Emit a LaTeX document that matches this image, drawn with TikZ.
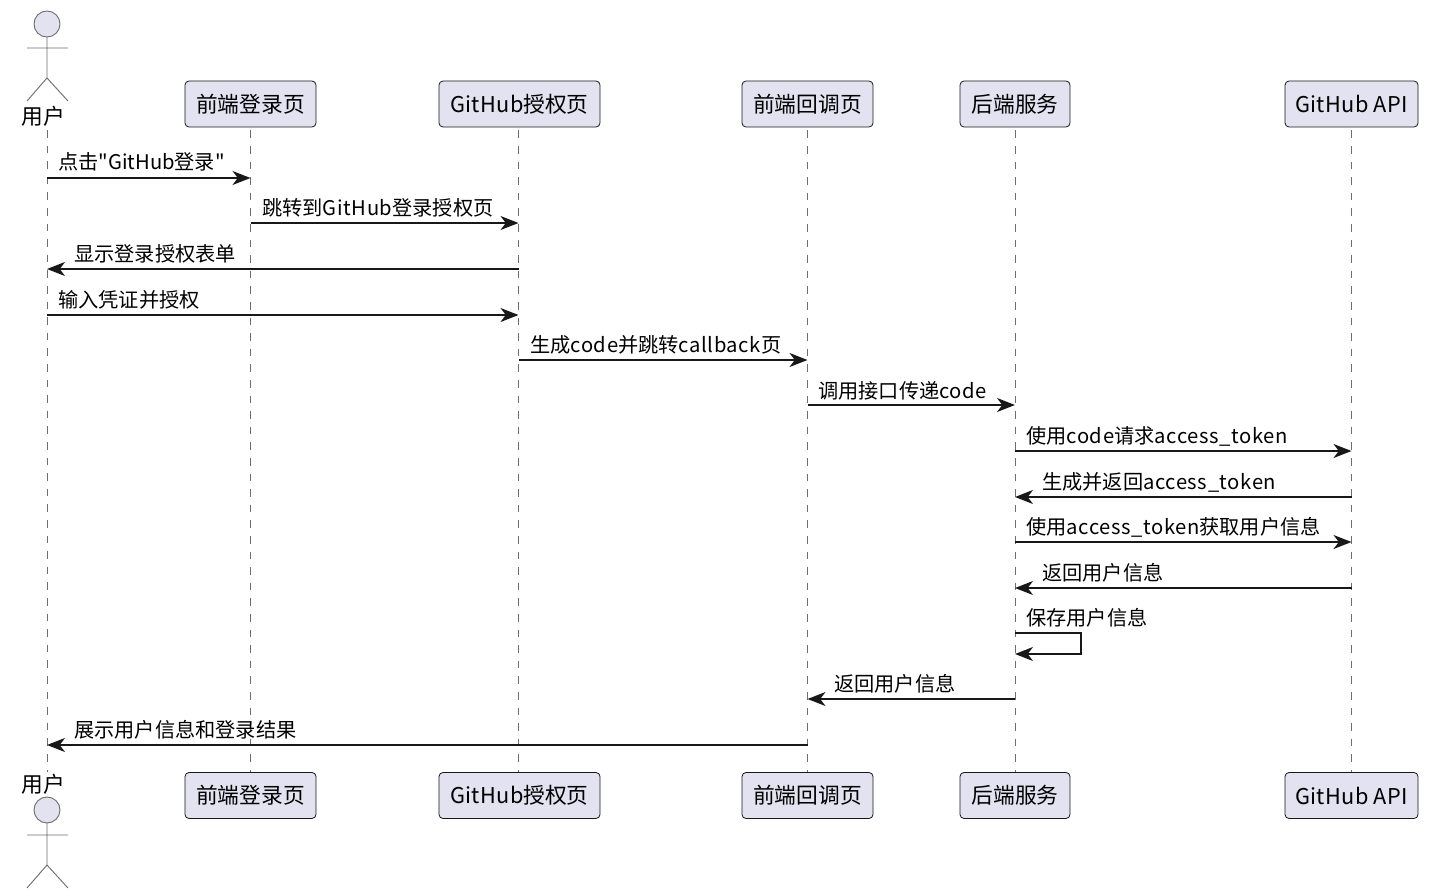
\documentclass[tikz,border=0pt]{standalone}
\usepackage{fontspec}
\newfontfamily\cjkfont{Noto Sans CJK SC}
\newfontfamily\latfont[LetterSpace=3]{Noto Sans CJK SC}
\newfontfamily\boxlatfont[LetterSpace=1.5]{Noto Sans CJK SC}
\newcommand{\lat}[1]{{\latfont #1}}
\newcommand{\boxlat}[1]{{\boxlatfont #1}}
\usetikzlibrary{arrows.meta}
\definecolor{partfill}{HTML}{E2E2F0}
\definecolor{partline}{HTML}{181818}
\definecolor{lifegray}{HTML}{6E6E6E}
\tikzset{
  partbox/.style={draw=partline, fill=partfill, rounded corners=3pt, line width=0.6pt, minimum height=34.5pt, inner sep=0pt, font=\cjkfont\fontsize{16.3}{18}\selectfont},
  lifeline/.style={draw=lifegray, line width=0.75pt, dash pattern=on 5.8pt off 5.9pt, dash phase=9.5pt},
  msg/.style={draw=partline, line width=1.2pt, -{Stealth[length=13.5pt,width=10.5pt,inset=4pt]}},
  msgtext/.style={anchor=base west, inner sep=0pt, font=\cjkfont\fontsize{15.15}{17}\selectfont},
  actorpart/.style={draw=lifegray, line width=0.7pt},
  actortext/.style={inner sep=0pt, font=\cjkfont\fontsize{16.3}{18}\selectfont}
}
\begin{document}
\begin{tikzpicture}[x=0.75pt, y=-0.75pt]
\useasboundingbox (0,0) rectangle (1436,892);

% Top participants
\node[actortext] (usertop) at (43,116) {用户};
\node[partbox, minimum width=98.25pt] (login) at (250.5,104) {前端登录页};
\node[partbox, minimum width=120.75pt] (auth) at (519.5,104) {\boxlat{GitHub}授权页};
\node[partbox, minimum width=98.25pt] (callback) at (807.5,104) {前端回调页};
\node[partbox, minimum width=82.5pt] (backend) at (1015,104) {后端服务};
\node[partbox, minimum width=99.75pt] (api) at (1351.5,104) {\boxlat{GitHub API}};

% Bottom participants
\node[actortext] (userbot) at (43,784) {用户};
\node[partbox, minimum width=98.25pt] (loginb) at (250.5,795.5) {前端登录页};
\node[partbox, minimum width=120.75pt] (authb) at (519.5,795.5) {\boxlat{GitHub}授权页};
\node[partbox, minimum width=98.25pt] (callbackb) at (807.5,795.5) {前端回调页};
\node[partbox, minimum width=82.5pt] (backendb) at (1015,795.5) {后端服务};
\node[partbox, minimum width=99.75pt] (apib) at (1351.5,795.5) {\boxlat{GitHub API}};

% Lifelines
\coordinate (user) at (47,127);
\coordinate (userb) at (47,772);
\draw[lifeline] (user) -- (userb);
\draw[lifeline] (login.south) -- (loginb.north);
\draw[lifeline] ([xshift=-0.75pt]auth.south) -- ([xshift=-0.75pt]authb.north);
\draw[lifeline] (callback.south) -- (callbackb.north);
\draw[lifeline] (backend.south) -- (backendb.north);
\draw[lifeline] (api.south) -- (apib.north);

% Actor, top
\draw[actorpart, fill=partfill] (47,24) circle (13);
\draw[actorpart] (47,37) -- (47,78) (27,48) -- (68,48) (27,101) -- (47,78) -- (68,101);

% Actor, bottom
\draw[actorpart, fill=partfill] (47,810) circle (13);
\draw[actorpart] (47,823) -- (47,865) (27,835) -- (68,835) (27,888) -- (47,865) -- (68,888);

% Messages
\draw[msg] (user |- 0,178) -- (login |- 0,178);
\node[msgtext] (m1) at (58,170) {点击"GitHub登录"};
\draw[msg] (login |- 0,223) -- ([xshift=-0.75pt]auth.center |- 0,223);
\node[msgtext] (m2) at (262,215) {跳转到\lat{GitHub}登录授权页};
\draw[msg] ([xshift=-0.75pt]auth.center |- 0,269) -- (user |- 0,269);
\node[msgtext] (m3) at (74,261) {显示登录授权表单};
\draw[msg] (user |- 0,315) -- ([xshift=-0.75pt]auth.center |- 0,315);
\node[msgtext] (m4) at (58,307) {输入凭证并授权};
\draw[msg] ([xshift=-0.75pt]auth.center |- 0,360) -- (callback |- 0,360);
\node[msgtext] (m5) at (530,352) {生成\lat{code}并跳转\lat{callback}页};
\draw[msg] (callback |- 0,405) -- (backend |- 0,405);
\node[msgtext] (m6) at (818,398) {调用接口传递\lat{code}};
\draw[msg] (backend |- 0,451) -- (api |- 0,451);
\node[msgtext] (m7) at (1026,443) {使用\lat{code}请求\lat{access\_token}};
\draw[msg] (api |- 0,497) -- (backend |- 0,497);
\node[msgtext] (m8) at (1042,489) {生成并返回\lat{access\_token}};
\draw[msg] (backend |- 0,542) -- (api |- 0,542);
\node[msgtext] (m9) at (1026,534) {使用\lat{access\_token}获取用户信息};
\draw[msg] (api |- 0,588) -- (backend |- 0,588);
\node[msgtext] (m10) at (1042,580) {返回用户信息};
\draw[msg] (backend |- 0,633) -- (1081,633) -- (1081,654) -- (backend |- 0,654);
\node[msgtext] (m11) at (1026,625) {保存用户信息};
\draw[msg] (backend |- 0,699) -- (callback |- 0,699);
\node[msgtext] (m12) at (834,691) {返回用户信息};
\draw[msg] (callback |- 0,745) -- (user |- 0,745);
\node[msgtext] (m13) at (74,737) {展示用户信息和登录结果};
\end{tikzpicture}
\end{document}
